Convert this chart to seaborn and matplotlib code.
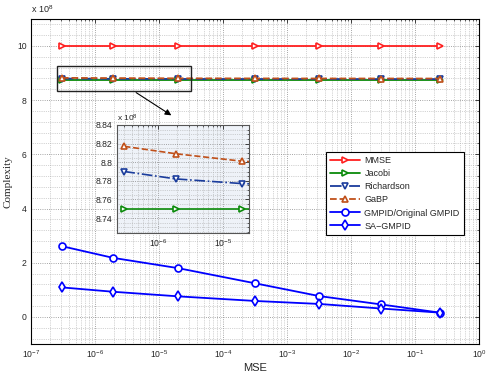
import numpy as np
import pandas as pd
import matplotlib
matplotlib.use('Agg')
import matplotlib.pyplot as plt
from matplotlib.patches import Rectangle
from matplotlib.ticker import AutoMinorLocator, NullFormatter, MultipleLocator
import seaborn as sns

# data (complexity in units of 1e8)
mse = [3.05e-7, 1.92e-6, 2.0e-5, 3.2e-4, 3.2e-3, 3.0e-2, 2.43e-1]
mmse = [10.0, 10.0, 10.0, 10.0, 10.0, 10.0, 10.0]
jacobi = [8.75, 8.75, 8.75, 8.75, 8.75, 8.75, 8.75]
richardson = [8.790, 8.782, 8.777, 8.775, 8.774, 8.773, 8.773]
gabp = [8.817, 8.809, 8.801, 8.797, 8.795, 8.794, 8.793]
gmpid = [2.61, 2.18, 1.80, 1.24, 0.77, 0.46, 0.16]
sa_gmpid = [1.09, 0.93, 0.76, 0.59, 0.48, 0.31, 0.16]

names = ['MMSE', 'Jacobi', 'Richardson', 'GaBP', 'GMPID/Original GMPID', 'SA\u2212GMPID']
series = [mmse, jacobi, richardson, gabp, gmpid, sa_gmpid]
styles = {
    'MMSE': dict(color='#ff2020', marker='>', ls='-'),
    'Jacobi': dict(color='#0a8a0a', marker='>', ls='-'),
    'Richardson': dict(color='#1a3c9c', marker='v', ls='-.'),
    'GaBP': dict(color='#c0501a', marker='^', ls='--'),
    'GMPID/Original GMPID': dict(color='#0000ff', marker='o', ls='-'),
    'SA\u2212GMPID': dict(color='#0000ff', marker='d', ls='-'),
}

main_xticks = [1e-7, 1e-6, 1e-5, 1e-4, 1e-3, 1e-2, 1e-1, 1e0]
main_xlabels = [r'10$^{-7}$', r'10$^{-6}$', r'10$^{-5}$', r'10$^{-4}$',
                r'10$^{-3}$', r'10$^{-2}$', r'10$^{-1}$', r'10$^{0}$']
inset_xticks = [1e-6, 1e-5]
inset_xlabels = [r'10$^{-6}$', r'10$^{-5}$']
inset_yticks = [8.74, 8.76, 8.78, 8.80, 8.82, 8.84]
inset_ylabels = ['8.74', '8.76', '8.78', '8.8', '8.82', '8.84']

df = pd.DataFrame({'MSE': np.tile(mse, len(names)),
                   'Complexity': np.concatenate(series),
                   'method': np.repeat(names, len(mse))})

sns.set_style('white')
plt.rcParams['font.family'] = ['Liberation Sans', 'DejaVu Sans']
plt.rcParams['mathtext.fontset'] = 'custom'
plt.rcParams['mathtext.rm'] = 'Liberation Sans'
plt.rcParams['mathtext.it'] = 'Liberation Sans'

fig = plt.figure(figsize=(4.91, 3.74), dpi=100)
ax = fig.add_axes([0.063, 0.080, 0.9125, 0.870])


def draw(axis, lw=1.3, ms=5):
    for name in names:
        st = styles[name]
        d = df[df['method'] == name]
        sns.lineplot(data=d, x='MSE', y='Complexity', ax=axis, color=st['color'],
                     marker=st['marker'], linestyle=st['ls'], lw=lw, markersize=ms,
                     markeredgecolor=st['color'], markeredgewidth=1.2,
                     label=name, legend=False)
    # open markers, MATLAB style
    for ln in axis.lines:
        ln.set_markerfacecolor('white')


def log_minors(lo, hi):
    return [m * 10.0 ** e for e in range(lo, hi) for m in range(2, 10)]


def style_axis(axis, fs):
    axis.set_xscale('log')
    axis.tick_params(direction='in', top=True, right=True, labelsize=fs, length=3, width=0.6,
                     which='major', pad=3)
    axis.tick_params(direction='in', top=True, right=True, which='minor', length=1.5, width=0.5)
    axis.grid(True, which='major', ls=':', lw=0.6, color='#888888')
    axis.grid(True, which='minor', ls=':', lw=0.5, color='#aaaaaa')
    for s in axis.spines.values():
        s.set_linewidth(0.8)
        s.set_color('black')


draw(ax)
style_axis(ax, 6.2)
ax.set_xticks(main_xticks, labels=main_xlabels)
ax.set_xticks(log_minors(-7, 0), minor=True)
ax.xaxis.set_minor_formatter(NullFormatter())
ax.set_xlim(1e-7, 1)
ax.set_ylim(-1, 11)
ax.yaxis.set_major_locator(MultipleLocator(2))
ax.yaxis.set_minor_locator(AutoMinorLocator(5))
ax.set_xlabel('MSE', fontsize=8, labelpad=2)
ax.set_ylabel('Complexity', fontsize=8, family='Liberation Serif', labelpad=3)
ax.text(0.0, 1.012, r'x 10$^8$', transform=ax.transAxes, fontsize=6.5, ha='left', va='bottom')

# zoom box and arrow
ax.add_patch(Rectangle((2.6e-7, 8.34), 3.13e-5 - 2.6e-7, 0.91, fill=False, ec='#222222', lw=1.0, zorder=5))
ax.annotate('', xy=(1.7e-5, 7.38), xytext=(4.05e-6, 8.33),
            arrowprops=dict(arrowstyle='-|>', color='black', lw=0.8, mutation_scale=9), zorder=6)

leg = ax.legend(loc='upper right', bbox_to_anchor=(0.977, 0.605), fontsize=6.5, frameon=True,
                fancybox=False, edgecolor='black', framealpha=1, handlelength=3.3,
                borderpad=0.5, labelspacing=0.45, handletextpad=0.5)
leg.get_frame().set_linewidth(0.8)
for h in leg.legend_handles:
    h.set_markerfacecolor('white')

# inset
axin = fig.add_axes([0.238, 0.377, 0.269, 0.289])
axin.set_facecolor('#eef2f8')
draw(axin, lw=1.2, ms=5)
style_axis(axin, 6.2)
axin.set_xticks(inset_xticks, labels=inset_xlabels)
axin.set_xticks([t for t in log_minors(-7, -4) if 10 ** -6.63 <= t <= 10 ** -4.6], minor=True)
axin.xaxis.set_minor_formatter(NullFormatter())
axin.set_xlim(10 ** -6.63, 10 ** -4.6)
axin.set_ylim(8.724, 8.84)
axin.set_yticks(inset_yticks, labels=inset_ylabels)
axin.yaxis.set_minor_locator(AutoMinorLocator(4))
axin.set_xlabel('')
axin.set_ylabel('')
for s in axin.spines.values():
    s.set_color('#555555')
axin.text(0.0, 1.01, r'x 10$^8$', transform=axin.transAxes, fontsize=6, ha='left', va='bottom')

fig.savefig('out.png', dpi=100)
